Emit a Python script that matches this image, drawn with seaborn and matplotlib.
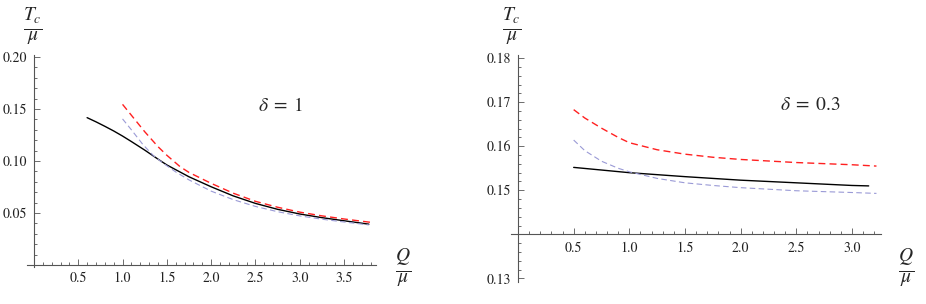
import numpy as np
import pandas as pd
import matplotlib
matplotlib.use('Agg')
import matplotlib.pyplot as plt
import seaborn as sns
from matplotlib.ticker import MultipleLocator, FixedLocator

# delta = 1 panel
q1_black = [0.6, 0.7, 0.8, 0.9, 1.0, 1.1, 1.25, 1.4, 1.5, 1.75, 2.0, 2.25, 2.5, 2.75, 3.0, 3.25, 3.5, 3.78]
t1_black = [0.1417, 0.1377, 0.1334, 0.1289, 0.1240, 0.1187, 0.1105, 0.1018, 0.0962, 0.0848, 0.0752, 0.0664, 0.0592, 0.0535, 0.0490, 0.0455, 0.0425, 0.0392]
q1_red = [1.0, 1.1, 1.25, 1.4, 1.5, 1.65, 1.75, 2.0, 2.25, 2.5, 2.75, 3.0, 3.25, 3.5, 3.8]
t1_red = [0.1545, 0.1440, 0.1282, 0.1138, 0.1055, 0.0945, 0.0890, 0.0785, 0.0690, 0.0612, 0.0555, 0.0508, 0.0472, 0.0442, 0.0410]
q1_blue = [1.0, 1.1, 1.23, 1.35, 1.46, 1.6, 1.75, 2.0, 2.25, 2.5, 2.75, 3.0, 3.25, 3.5, 3.78]
t1_blue = [0.1405, 0.1300, 0.1158, 0.1050, 0.0978, 0.0895, 0.0818, 0.0710, 0.0628, 0.0563, 0.0512, 0.0472, 0.0440, 0.0413, 0.0385]

# delta = 0.3 panel
q2_black = [0.5, 1.0, 1.5, 2.0, 2.5, 3.0, 3.15]
t2_black = [0.1552, 0.1540, 0.1531, 0.1523, 0.1517, 0.1511, 0.1510]
q2_red = [0.5, 0.6, 0.75, 0.9, 1.0, 1.25, 1.5, 1.75, 2.0, 2.5, 3.0, 3.22]
t2_red = [0.1683, 0.1664, 0.1641, 0.1620, 0.1608, 0.1592, 0.1582, 0.1575, 0.1570, 0.1563, 0.1558, 0.1555]
q2_blue = [0.5, 0.6, 0.75, 0.9, 1.0, 1.25, 1.5, 1.75, 2.0, 2.5, 3.0, 3.22]
t2_blue = [0.1614, 0.1590, 0.1566, 0.1550, 0.1542, 0.1527, 0.1517, 0.1511, 0.1506, 0.1499, 0.1495, 0.1493]

sns.set_style('ticks')
plt.rcParams['font.family'] = ['STIXGeneral', 'DejaVu Serif']
plt.rcParams['mathtext.fontset'] = 'stix'

fig = plt.figure(figsize=(9.26, 3.04), dpi=100)
ax1 = fig.add_axes([0.0288, 0.1217, 0.3772, 0.6974])
ax2 = fig.add_axes([0.5522, 0.0724, 0.3996, 0.7467])

axis_col = '#555555'


def draw(ax, qb, tb, qr, tr, qbl, tbl):
    sns.lineplot(x=qb, y=tb, ax=ax, color='black', lw=1.0, sort=False)
    sns.lineplot(x=qr, y=tr, ax=ax, color='#ff2020', lw=1.0, dashes=False, sort=False,
                 linestyle=(0, (5, 3)))
    sns.lineplot(x=qbl, y=tbl, ax=ax, color='#9a9ad6', lw=0.8, dashes=False, sort=False,
                 linestyle=(0, (5, 3)))
    for s in ['top', 'right']:
        ax.spines[s].set_visible(False)
    ax.spines['left'].set_position(('data', 0))
    for s in ['left', 'bottom']:
        ax.spines[s].set_color(axis_col)
        ax.spines[s].set_linewidth(0.8)
    ax.tick_params(which='both', direction='in', color=axis_col, width=0.6, labelsize=10,
                   labelcolor='#222222', pad=5)
    ax.tick_params(which='major', length=4)
    ax.tick_params(which='minor', length=2.2)
    ax.set_facecolor('none')


draw(ax1, q1_black, t1_black, q1_red, t1_red, q1_blue, t1_blue)
ax1.set_xlim(-0.082, 3.86)
ax1.set_ylim(-0.002, 0.202)
ax1.spines['bottom'].set_position(('data', 0))
ax1.xaxis.set_major_locator(FixedLocator([0.5, 1.0, 1.5, 2.0, 2.5, 3.0, 3.5]))
ax1.xaxis.set_minor_locator(MultipleLocator(0.1))
ax1.yaxis.set_major_locator(FixedLocator([0.05, 0.10, 0.15, 0.20]))
ax1.yaxis.set_minor_locator(MultipleLocator(0.01))
ax1.set_xticklabels(['0.5', '1.0', '1.5', '2.0', '2.5', '3.0', '3.5'])
ax1.set_yticklabels(['0.05', '0.10', '0.15', '0.20'])
ax1.text(2.79, 0.153, r'$\delta\;=\;1$', fontsize=14, ha='center', va='center')

draw(ax2, q2_black, t2_black, q2_red, t2_red, q2_blue, t2_blue)
ax2.set_xlim(-0.06, 3.264)
ax2.set_ylim(0.1292, 0.1807)
ax2.spines['bottom'].set_position(('data', 0.14))
ax2.xaxis.set_major_locator(FixedLocator([0.5, 1.0, 1.5, 2.0, 2.5, 3.0]))
ax2.xaxis.set_minor_locator(MultipleLocator(0.1))
ax2.yaxis.set_major_locator(FixedLocator([0.13, 0.15, 0.16, 0.17, 0.18]))
ax2.yaxis.set_minor_locator(MultipleLocator(0.002))
ax2.set_xticklabels(['0.5', '1.0', '1.5', '2.0', '2.5', '3.0'])
ax2.set_yticklabels(['0.13', '0.15', '0.16', '0.17', '0.18'])
ax2.text(2.63, 0.1692, r'$\delta\;=\;0.3$', fontsize=14, ha='center', va='center')

# axis labels as fractions
W, H = 926, 304
for px, py in [(33, 27), (512, 27)]:
    fig.text(px / W, 1 - py / H, r'$\frac{T_c}{\mu}$', fontsize=20, ha='center', va='center')
for px, py in [(403, 268), (906, 268)]:
    fig.text(px / W, 1 - py / H, r'$\frac{Q}{\mu}$', fontsize=20, ha='center', va='center')

fig.savefig('out.png', dpi=100)
